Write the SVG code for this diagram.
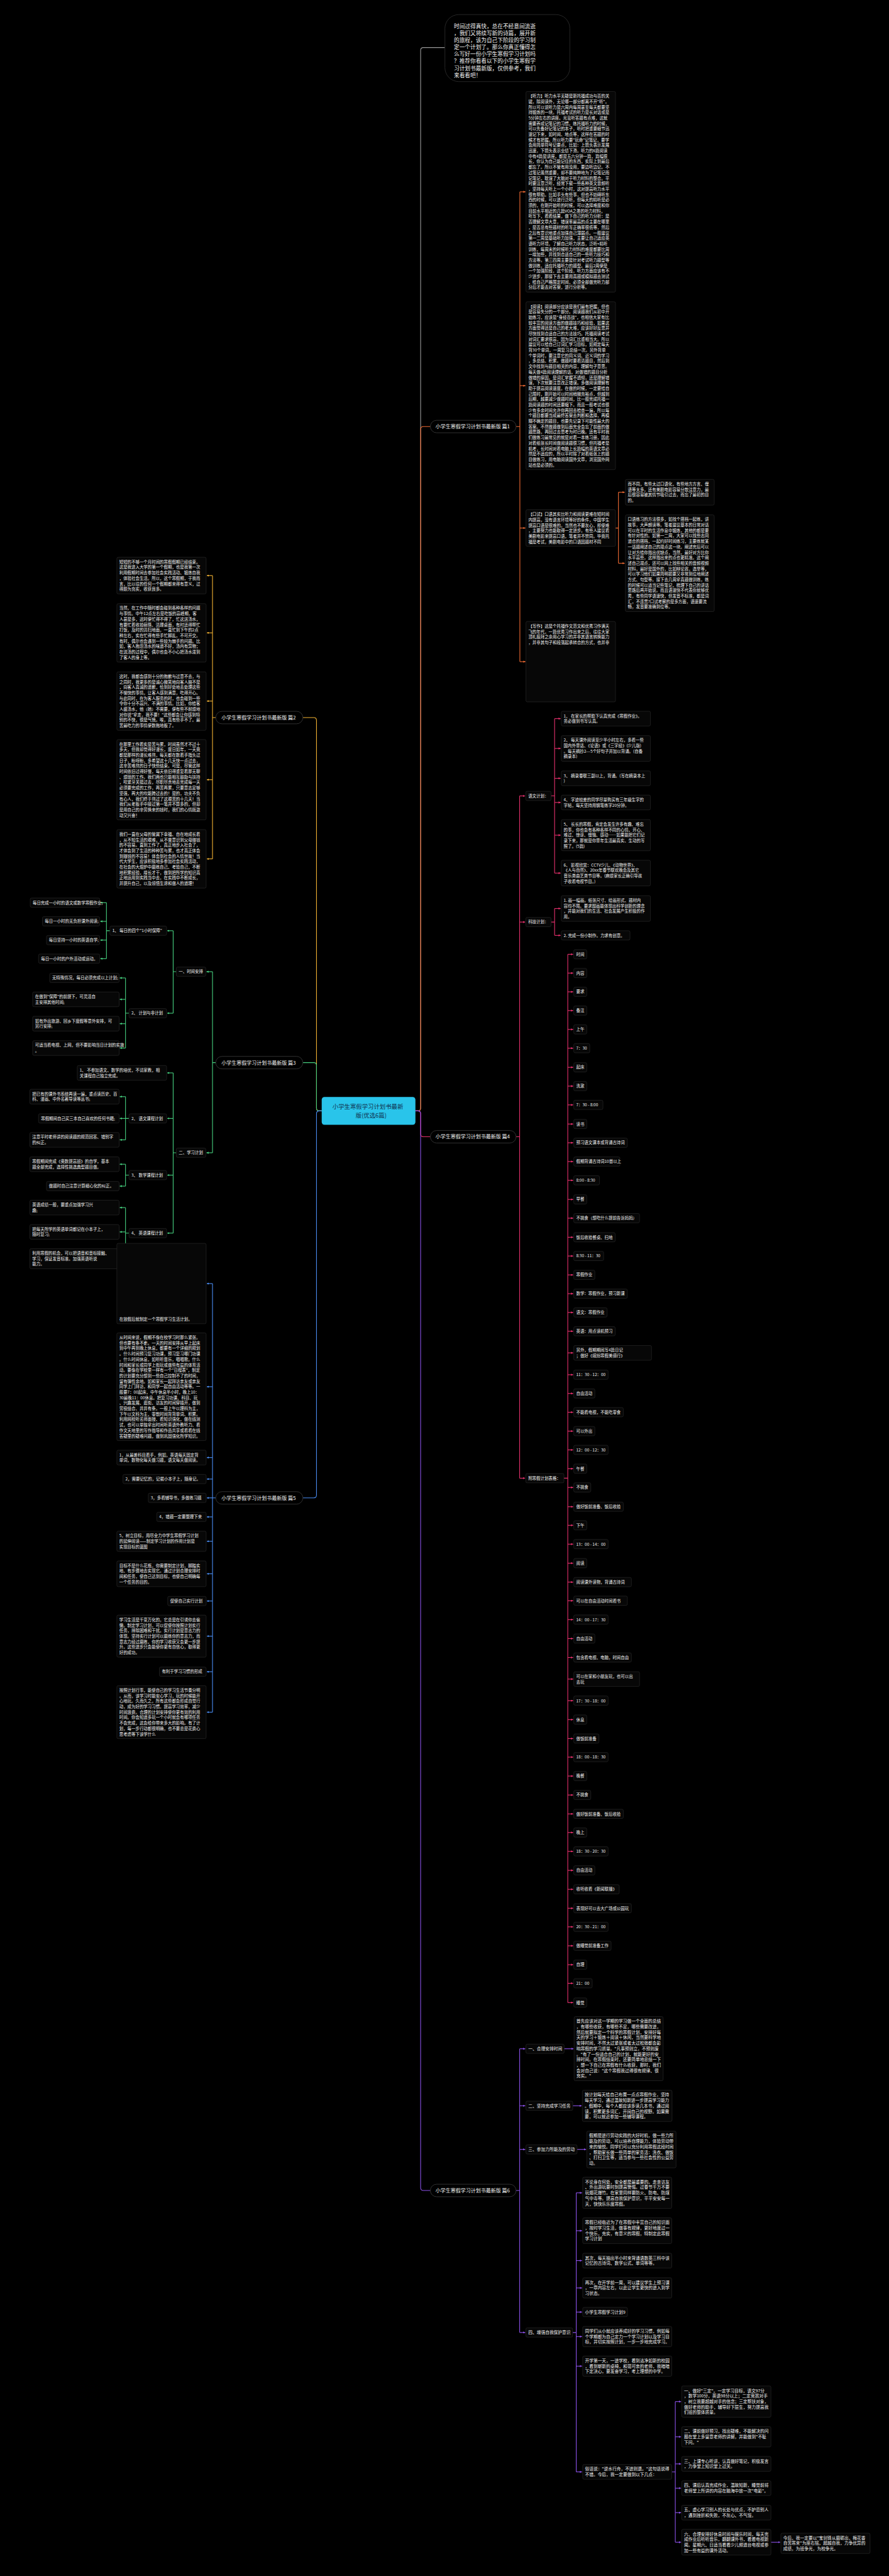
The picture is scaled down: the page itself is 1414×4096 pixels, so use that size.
<svg xmlns="http://www.w3.org/2000/svg" width="1414" height="4096" viewBox="0 0 1414 4096">
<style>
.t{font-family:"Noto Sans CJK SC","Noto Sans CJK JP",sans-serif;font-size:11.7px;fill:#f0f0f0}
.t6{font-family:"Noto Sans CJK SC","Noto Sans CJK JP",sans-serif;font-size:12.2px;fill:#f0f0f0}
.pl{font-family:"Noto Sans CJK SC","Noto Sans CJK JP",sans-serif;font-size:14.5px;fill:#f0f0f0}
.it{font-family:"Noto Sans CJK SC","Noto Sans CJK JP",sans-serif;font-size:15.7px;fill:#f0f0f0}
.ct{font-family:"Noto Sans CJK SC","Noto Sans CJK JP",sans-serif;font-size:17px;fill:#10304e}
.nb{fill:#070707;stroke:#2a2a2a;stroke-width:1.2}
.pill{fill:#000;stroke:#3a3a3a;stroke-width:1.5}
.c{fill:none;stroke-width:2}
.o{stroke:#ee6a33}.y{stroke:#f2b233}.g{stroke:#46cf7f}.p{stroke:#e6306d}.b{stroke:#4a8cf2}.v{stroke:#8a50e6}.w{stroke:#9a9a9a}
</style>
<defs>
<marker id="ao" viewBox="0 0 10 10" refX="10" refY="5" markerWidth="6" markerHeight="6" markerUnits="userSpaceOnUse" orient="auto"><path d="M0,0L10,5L0,10z" fill="#ee6a33"/></marker>
<marker id="ay" viewBox="0 0 10 10" refX="10" refY="5" markerWidth="6" markerHeight="6" markerUnits="userSpaceOnUse" orient="auto"><path d="M0,0L10,5L0,10z" fill="#f2b233"/></marker>
<marker id="ag" viewBox="0 0 10 10" refX="10" refY="5" markerWidth="6" markerHeight="6" markerUnits="userSpaceOnUse" orient="auto"><path d="M0,0L10,5L0,10z" fill="#46cf7f"/></marker>
<marker id="ap" viewBox="0 0 10 10" refX="10" refY="5" markerWidth="6" markerHeight="6" markerUnits="userSpaceOnUse" orient="auto"><path d="M0,0L10,5L0,10z" fill="#e6306d"/></marker>
<marker id="ab" viewBox="0 0 10 10" refX="10" refY="5" markerWidth="6" markerHeight="6" markerUnits="userSpaceOnUse" orient="auto"><path d="M0,0L10,5L0,10z" fill="#4a8cf2"/></marker>
<marker id="av" viewBox="0 0 10 10" refX="10" refY="5" markerWidth="6" markerHeight="6" markerUnits="userSpaceOnUse" orient="auto"><path d="M0,0L10,5L0,10z" fill="#8a50e6"/></marker>
</defs>
<rect width="1414" height="4096" fill="#000"/>
<g transform="scale(0.552)">
<g id="connectors">
<path class="c w" d="M1197,3200H1204Q1212,3200 1212,3192V145Q1212,137 1220,137H1282"/>
<path class="c o" d="M1197,3200H1204Q1212,3200 1212,3192V1236.6Q1212,1228.6 1220,1228.6H1240"/>
<path class="c p" d="M1197,3200H1204Q1212,3200 1212,3208V3266.5Q1212,3274.5 1220,3274.5H1240"/>
<path class="c v" d="M1197,3200H1204Q1212,3200 1212,3208V6301.8Q1212,6309.8 1220,6309.8H1240"/>
<path class="c y" d="M927,3200H920Q912,3200 912,3192V2075Q912,2067 904,2067H873"/>
<path class="c g" d="M927,3200H920Q912,3200 912,3192V3069Q912,3061 904,3061H873"/>
<path class="c b" d="M927,3200H920Q912,3200 912,3208V4306.7Q912,4314.7 904,4314.7H873"/>
<path class="c o" d="M1487,1228.6H1498M1498,552.5V1906M1782,1418V1622.5M1773.5,1521H1782"/>
<path class="c o" marker-end="url(#ao)" d="M1498,552.5H1514"/>
<path class="c o" marker-end="url(#ao)" d="M1498,1111H1514"/>
<path class="c o" marker-end="url(#ao)" d="M1498,1521H1514"/>
<path class="c o" marker-end="url(#ao)" d="M1498,1906H1514"/>
<path class="c o" marker-end="url(#ao)" d="M1782,1418H1800"/>
<path class="c o" marker-end="url(#ao)" d="M1782,1622.5H1800"/>
<path class="c y" d="M621.7,2067H612.3M612.3,1658V2474"/>
<path class="c y" marker-end="url(#ay)" d="M612.3,1658H596"/>
<path class="c y" marker-end="url(#ay)" d="M612.3,1823H596"/>
<path class="c y" marker-end="url(#ay)" d="M612.3,2019.5H596"/>
<path class="c y" marker-end="url(#ay)" d="M612.3,2246H596"/>
<path class="c y" marker-end="url(#ay)" d="M612.3,2474H596"/>
<path class="c g" d="M621.7,3061H612.3M612.3,2799V3320.6M508,2799H499M499,2681V2918.6M508,3320.6H499M499,3090.5V3552M316.7,2681H306.7M306.7,2600.2V2761.5M371.7,2918.6H361.7M361.7,2817V3019M371.7,3221.7H361.7M361.7,3159V3283.4M371.7,3385H361.7M361.7,3353.6V3416.7M371.7,3552H361.7M361.7,3478.5V3625.8"/>
<path class="c g" marker-end="url(#ag)" d="M612.3,2799H595"/>
<path class="c g" marker-end="url(#ag)" d="M612.3,3320.6H595"/>
<path class="c g" marker-end="url(#ag)" d="M499,2681H482"/>
<path class="c g" marker-end="url(#ag)" d="M499,2918.6H482"/>
<path class="c g" marker-end="url(#ag)" d="M499,3090.5H482"/>
<path class="c g" marker-end="url(#ag)" d="M499,3221.7H482"/>
<path class="c g" marker-end="url(#ag)" d="M499,3385H482"/>
<path class="c g" marker-end="url(#ag)" d="M499,3552H482"/>
<path class="c g" marker-end="url(#ag)" d="M306.7,2600.2H289"/>
<path class="c g" marker-end="url(#ag)" d="M306.7,2654H289"/>
<path class="c g" marker-end="url(#ag)" d="M306.7,2708H289"/>
<path class="c g" marker-end="url(#ag)" d="M306.7,2761.5H289"/>
<path class="c g" marker-end="url(#ag)" d="M361.7,2817H345"/>
<path class="c g" marker-end="url(#ag)" d="M361.7,2878.7H345"/>
<path class="c g" marker-end="url(#ag)" d="M361.7,2948.8H345"/>
<path class="c g" marker-end="url(#ag)" d="M361.7,3019H345"/>
<path class="c g" marker-end="url(#ag)" d="M361.7,3159H345"/>
<path class="c g" marker-end="url(#ag)" d="M361.7,3221.7H345"/>
<path class="c g" marker-end="url(#ag)" d="M361.7,3283.4H345"/>
<path class="c g" marker-end="url(#ag)" d="M361.7,3353.6H345"/>
<path class="c g" marker-end="url(#ag)" d="M361.7,3416.7H345"/>
<path class="c g" marker-end="url(#ag)" d="M361.7,3478.5H345"/>
<path class="c g" marker-end="url(#ag)" d="M361.7,3548.6H345"/>
<path class="c g" marker-end="url(#ag)" d="M361.7,3625.8H345"/>
<path class="c p" d="M1487,3274.5H1497.3M1497.3,2292.7V4258M1588,2292.7H1598M1598,2070V2515M1588,2656H1598M1598,2617V2694.5M1625,4258H1636M1636,2748.9V5768.5"/>
<path class="c p" marker-end="url(#ap)" d="M1497.3,2292.7H1513"/>
<path class="c p" marker-end="url(#ap)" d="M1497.3,2656H1513"/>
<path class="c p" marker-end="url(#ap)" d="M1497.3,4258H1513"/>
<path class="c p" marker-end="url(#ap)" d="M1598,2070H1615.5"/>
<path class="c p" marker-end="url(#ap)" d="M1598,2156H1615.5"/>
<path class="c p" marker-end="url(#ap)" d="M1598,2242H1615.5"/>
<path class="c p" marker-end="url(#ap)" d="M1598,2311.6H1615.5"/>
<path class="c p" marker-end="url(#ap)" d="M1598,2405.8H1615.5"/>
<path class="c p" marker-end="url(#ap)" d="M1598,2515H1615.5"/>
<path class="c p" marker-end="url(#ap)" d="M1598,2617H1615.5"/>
<path class="c p" marker-end="url(#ap)" d="M1598,2694.5H1615.5"/>
<path class="c p" marker-end="url(#ap)" d="M1636,2748.9H1651.5"/><path class="c p" marker-end="url(#ap)" d="M1636,2803H1651.5"/><path class="c p" marker-end="url(#ap)" d="M1636,2857H1651.5"/><path class="c p" marker-end="url(#ap)" d="M1636,2911H1651.5"/><path class="c p" marker-end="url(#ap)" d="M1636,2965.3H1651.5"/><path class="c p" marker-end="url(#ap)" d="M1636,3019.4H1651.5"/><path class="c p" marker-end="url(#ap)" d="M1636,3074.5H1651.5"/><path class="c p" marker-end="url(#ap)" d="M1636,3128.6H1651.5"/><path class="c p" marker-end="url(#ap)" d="M1636,3182.7H1651.5"/><path class="c p" marker-end="url(#ap)" d="M1636,3237.8H1651.5"/><path class="c p" marker-end="url(#ap)" d="M1636,3291.8H1651.5"/><path class="c p" marker-end="url(#ap)" d="M1636,3345.9H1651.5"/><path class="c p" marker-end="url(#ap)" d="M1636,3400H1651.5"/><path class="c p" marker-end="url(#ap)" d="M1636,3455H1651.5"/><path class="c p" marker-end="url(#ap)" d="M1636,3509H1651.5"/><path class="c p" marker-end="url(#ap)" d="M1636,3564H1651.5"/><path class="c p" marker-end="url(#ap)" d="M1636,3618H1651.5"/><path class="c p" marker-end="url(#ap)" d="M1636,3672.4H1651.5"/><path class="c p" marker-end="url(#ap)" d="M1636,3726.5H1651.5"/><path class="c p" marker-end="url(#ap)" d="M1636,3780.6H1651.5"/><path class="c p" marker-end="url(#ap)" d="M1636,3834.7H1651.5"/><path class="c p" marker-end="url(#ap)" d="M1636,3897H1651.5"/><path class="c p" marker-end="url(#ap)" d="M1636,3960H1651.5"/><path class="c p" marker-end="url(#ap)" d="M1636,4014H1651.5"/><path class="c p" marker-end="url(#ap)" d="M1636,4068H1651.5"/><path class="c p" marker-end="url(#ap)" d="M1636,4122.4H1651.5"/><path class="c p" marker-end="url(#ap)" d="M1636,4176.5H1651.5"/><path class="c p" marker-end="url(#ap)" d="M1636,4230.6H1651.5"/><path class="c p" marker-end="url(#ap)" d="M1636,4284.7H1651.5"/><path class="c p" marker-end="url(#ap)" d="M1636,4340.2H1651.5"/><path class="c p" marker-end="url(#ap)" d="M1636,4393.7H1651.5"/><path class="c p" marker-end="url(#ap)" d="M1636,4448H1651.5"/><path class="c p" marker-end="url(#ap)" d="M1636,4502.8H1651.5"/><path class="c p" marker-end="url(#ap)" d="M1636,4557.3H1651.5"/><path class="c p" marker-end="url(#ap)" d="M1636,4611H1651.5"/><path class="c p" marker-end="url(#ap)" d="M1636,4665.4H1651.5"/><path class="c p" marker-end="url(#ap)" d="M1636,4720H1651.5"/><path class="c p" marker-end="url(#ap)" d="M1636,4774.5H1651.5"/><path class="c p" marker-end="url(#ap)" d="M1636,4836.7H1651.5"/><path class="c p" marker-end="url(#ap)" d="M1636,4898.9H1651.5"/><path class="c p" marker-end="url(#ap)" d="M1636,4953.4H1651.5"/><path class="c p" marker-end="url(#ap)" d="M1636,5008H1651.5"/><path class="c p" marker-end="url(#ap)" d="M1636,5061.5H1651.5"/><path class="c p" marker-end="url(#ap)" d="M1636,5116H1651.5"/><path class="c p" marker-end="url(#ap)" d="M1636,5170.6H1651.5"/><path class="c p" marker-end="url(#ap)" d="M1636,5225H1651.5"/><path class="c p" marker-end="url(#ap)" d="M1636,5278.7H1651.5"/><path class="c p" marker-end="url(#ap)" d="M1636,5333H1651.5"/><path class="c p" marker-end="url(#ap)" d="M1636,5387.7H1651.5"/><path class="c p" marker-end="url(#ap)" d="M1636,5442.3H1651.5"/><path class="c p" marker-end="url(#ap)" d="M1636,5496.8H1651.5"/><path class="c p" marker-end="url(#ap)" d="M1636,5550.4H1651.5"/><path class="c p" marker-end="url(#ap)" d="M1636,5605H1651.5"/><path class="c p" marker-end="url(#ap)" d="M1636,5659.4H1651.5"/><path class="c p" marker-end="url(#ap)" d="M1636,5713H1651.5"/><path class="c p" marker-end="url(#ap)" d="M1636,5768.5H1651.5"/>
<path class="c b" d="M621.7,4314.7H612.3M612.3,3697.4V4932"/>
<path class="c b" marker-end="url(#ab)" d="M612.3,3697.4H596"/><path class="c b" marker-end="url(#ab)" d="M612.3,3994.5H596"/><path class="c b" marker-end="url(#ab)" d="M612.3,4198.6H596"/><path class="c b" marker-end="url(#ab)" d="M612.3,4260.5H596"/><path class="c b" marker-end="url(#ab)" d="M612.3,4314.7H596"/><path class="c b" marker-end="url(#ab)" d="M612.3,4369.5H596"/><path class="c b" marker-end="url(#ab)" d="M612.3,4439.7H596"/><path class="c b" marker-end="url(#ab)" d="M612.3,4533.4H596"/><path class="c b" marker-end="url(#ab)" d="M612.3,4611.8H596"/><path class="c b" marker-end="url(#ab)" d="M612.3,4713H596"/><path class="c b" marker-end="url(#ab)" d="M612.3,4815.5H596"/><path class="c b" marker-end="url(#ab)" d="M612.3,4932H596"/>
<path class="c v" d="M1487,6309.8H1497.4M1497.4,5901.6V6718.9M1650,6718.9H1660.4M1660.4,6316.6V7120.4M1936,7120.4H1945.8M1945.8,6917.9V7323"/>
<path class="c v" marker-end="url(#av)" d="M1497.4,5901.6H1513.5"/><path class="c v" marker-end="url(#av)" d="M1497.4,6065.8H1513.5"/><path class="c v" marker-end="url(#av)" d="M1497.4,6191.5H1513.5"/><path class="c v" marker-end="url(#av)" d="M1497.4,6718.9H1513.5"/>
<path class="c v" marker-end="url(#av)" d="M1625.6,5901.6H1652.5"/><path class="c v" marker-end="url(#av)" d="M1650.5,6065.8H1676"/><path class="c v" marker-end="url(#av)" d="M1662.8,6191.5H1689"/>
<path class="c v" marker-end="url(#av)" d="M1660.4,6316.6H1677"/><path class="c v" marker-end="url(#av)" d="M1660.4,6425.7H1677"/><path class="c v" marker-end="url(#av)" d="M1660.4,6511.8H1677"/><path class="c v" marker-end="url(#av)" d="M1660.4,6590.5H1677"/><path class="c v" marker-end="url(#av)" d="M1660.4,6660H1677"/><path class="c v" marker-end="url(#av)" d="M1660.4,6730.6H1677"/><path class="c v" marker-end="url(#av)" d="M1660.4,6815.8H1677"/><path class="c v" marker-end="url(#av)" d="M1660.4,7120.4H1677"/>
<path class="c v" marker-end="url(#av)" d="M1945.8,6917.9H1962.5"/><path class="c v" marker-end="url(#av)" d="M1945.8,7019.4H1962.5"/><path class="c v" marker-end="url(#av)" d="M1945.8,7097.4H1962.5"/><path class="c v" marker-end="url(#av)" d="M1945.8,7167.3H1962.5"/><path class="c v" marker-end="url(#av)" d="M1945.8,7237.8H1962.5"/><path class="c v" marker-end="url(#av)" d="M1945.8,7323H1962.5"/>
<path class="c v" marker-end="url(#av)" d="M2221.4,7323H2248"/>
</g>

<g id="center"><rect x="927" y="3160" width="270" height="80" rx="8" fill="#29c4ea"/><text class="ct" x="958" y="3194">小学生寒假学习计划书最新</text><text class="ct" x="1025" y="3219">版(优选6篇)</text></g>

<g id="intro"><rect x="1282" y="42" width="360" height="193" rx="40" fill="#000" stroke="#2e2e2e" stroke-width="1.5"/><text class="it" x="1308" y="82"><tspan x="1308">时间过得真快，总在不经意间流逝</tspan><tspan x="1308" dy="20">，我们又将续写新的诗篇，展开新</tspan><tspan x="1308" dy="20">的旅程，该为自己下阶段的学习制</tspan><tspan x="1308" dy="20">定一个计划了。那么你真正懂得怎</tspan><tspan x="1308" dy="20">么写好一份小学生寒假学习计划吗</tspan><tspan x="1308" dy="20">？推荐你看看以下的小学生寒假学</tspan><tspan x="1308" dy="20">习计划书最新版，仅供参考，我们</tspan><tspan x="1308" dy="20">来看看吧！</tspan></text></g>

<g id="b1"><rect class="pill" x="1240" y="1210.6" width="247" height="36" rx="18"/><text class="pl" x="1255" y="1233.8">小学生寒假学习计划书最新版 篇1</text></g>
<g id="b1-listen"><rect class="nb" x="1515.5" y="263.5" width="258" height="578" rx="4"/><text class="t" x="1522.5" y="281.1"><tspan x="1522.5">【听力】听力水平无疑是新托福成功与否的关</tspan><tspan x="1522.5" dy="15.75">键，除阅读外，无论哪一部分都离不开"听"。</tspan><tspan x="1522.5" dy="15.75">所以可以说听力是六周内每周甚至每天都要坚</tspan><tspan x="1522.5" dy="15.75">持锻炼的一块。托福考试的听力是长对话或是</tspan><tspan x="1522.5" dy="15.75">5分钟左右的讲座。光靠听答题有点难，这就</tspan><tspan x="1522.5" dy="15.75">需要养成记笔记的习惯。练托福听力的时候，</tspan><tspan x="1522.5" dy="15.75">可以先备好记笔记的本子，听时把重要细节迅</tspan><tspan x="1522.5" dy="15.75">速记下来，如时间、地点等，这样在答题的时</tspan><tspan x="1522.5" dy="15.75">候才有把握。所以听力要"玩命"记笔记，要学</tspan><tspan x="1522.5" dy="15.75">会用简单符号记要点，比如：上箭头表示发展</tspan><tspan x="1522.5" dy="15.75">迅速，下箭头表示业绩下滑。听力的6篇阅读</tspan><tspan x="1522.5" dy="15.75">中有4篇是讲座，都是五六分钟一篇，篇幅很</tspan><tspan x="1522.5" dy="15.75">长，你认为自己能记住的东西，实际上到最后</tspan><tspan x="1522.5" dy="15.75">都忘了。所以不管有用没用，要边听边记。不</tspan><tspan x="1522.5" dy="15.75">过笔记虽然重要，却不要纯粹地为了记笔记而</tspan><tspan x="1522.5" dy="15.75">记笔记，耽误了大脑对于听力材料的整合。平</tspan><tspan x="1522.5" dy="15.75">时要注意泛听，经常下载一些各种英文音频听</tspan><tspan x="1522.5" dy="15.75">，坚持每天听上一个小时，这对提高听力水平</tspan><tspan x="1522.5" dy="15.75">很有帮助。比如手头有些事，但也不妨碍听东</tspan><tspan x="1522.5" dy="15.75">西的时候，可以进行泛听，但每天的精听是必</tspan><tspan x="1522.5" dy="15.75">须的，在刚开始听的时候，可以选择难度和你</tspan><tspan x="1522.5" dy="15.75">目前水平相近的几篇VOA之类的听力材料，</tspan><tspan x="1522.5" dy="15.75">听写下，看看结果，做下自己的听力分析：是</tspan><tspan x="1522.5" dy="15.75">否理解文章大意，错误率最高的点主要在哪里</tspan><tspan x="1522.5" dy="15.75">，是否总有些题材的听写正确率很低等，然后</tspan><tspan x="1522.5" dy="15.75">之后有意识地重点加强自己薄弱点。一般建议</tspan><tspan x="1522.5" dy="15.75">第一二周是基础听力加强，主要让自己适应英</tspan><tspan x="1522.5" dy="15.75">语听力环境，了解自己听力状态，泛听+精听</tspan><tspan x="1522.5" dy="15.75">训练，每周末的时候听力材料的难度都要比周</tspan><tspan x="1522.5" dy="15.75">一增加些，并找到合适自己的一些听力技巧和</tspan><tspan x="1522.5" dy="15.75">方法等。第三四周主要是针对考试听力题型等</tspan><tspan x="1522.5" dy="15.75">做训练，适应托福听力的题型。最后2周便是</tspan><tspan x="1522.5" dy="15.75">一个加强阶段，这个阶段，听力方面应该有不</tspan><tspan x="1522.5" dy="15.75">少进步，那接下去主要用真题或模拟题去测试</tspan><tspan x="1522.5" dy="15.75">，给自己严格限定时间，必须全部做完听力部</tspan><tspan x="1522.5" dy="15.75">分后才能去对答案，进行分析等。</tspan></text></g>
<g id="b1-read"><rect class="nb" x="1515.5" y="869.25" width="258" height="483.5" rx="4"/><text class="t" x="1522.5" y="886.8"><tspan x="1522.5">【阅读】阅读部分应该是我们最有把握，但也</tspan><tspan x="1522.5" dy="15.75">是容易失分的一个部分。阅读题我们从初中开</tspan><tspan x="1522.5" dy="15.75">始练习，应该是"身经百战"，也相信大家有比</tspan><tspan x="1522.5" dy="15.75">较丰富的阅读方面的做题技巧和经验，如果这</tspan><tspan x="1522.5" dy="15.75">方面觉得还是自己的老大难，应该好好反思并</tspan><tspan x="1522.5" dy="15.75">尽快找到合适自己的方法技巧。托福阅读考试</tspan><tspan x="1522.5" dy="15.75">对词汇要求很高，因为词汇比重相当大。所以</tspan><tspan x="1522.5" dy="15.75">建议可以给自己订词汇学习目标，如规定每天</tspan><tspan x="1522.5" dy="15.75">背30个单词，一周复习总结一次。另外背单</tspan><tspan x="1522.5" dy="15.75">个单词时，要注意它的同义词、近义词的学习</tspan><tspan x="1522.5" dy="15.75">，多总结、积累。做题时要看清题目，然后到</tspan><tspan x="1522.5" dy="15.75">文中找到与题目相关的内容，理解句子意思。</tspan><tspan x="1522.5" dy="15.75">每天做4篇阅读理解的话，对做错的题目分析</tspan><tspan x="1522.5" dy="15.75">做错的原因，是词汇掌握不透彻，还是理解错</tspan><tspan x="1522.5" dy="15.75">误，下次就要注意改正错误。多做阅读理解有</tspan><tspan x="1522.5" dy="15.75">助于提高阅读速度。在做的时候，一定要给自</tspan><tspan x="1522.5" dy="15.75">己限时，刚开始可以时间稍微充裕点，但越到</tspan><tspan x="1522.5" dy="15.75">后期，越要减少做题时间，比一般完成托福一</tspan><tspan x="1522.5" dy="15.75">篇阅读题的时间还要缩下。而且一般考试也很</tspan><tspan x="1522.5" dy="15.75">少有多余时间允许你再回去检查一遍，所以每</tspan><tspan x="1522.5" dy="15.75">个题目都要当成最终答案去判断和选择，再模</tspan><tspan x="1522.5" dy="15.75">糊不确定的题目，也要先记录下可能性最大的</tspan><tspan x="1522.5" dy="15.75">答案。不然做题做到后面完全会忘了前面的做</tspan><tspan x="1522.5" dy="15.75">题思路，再回过去思考为时已晚。还有平时我</tspan><tspan x="1522.5" dy="15.75">们做练习最常见的就是对着一本练习册，因此</tspan><tspan x="1522.5" dy="15.75">对着纸张长时间做阅读题很习惯，但托福考是</tspan><tspan x="1522.5" dy="15.75">机考，长时间对着电脑上长篇幅的英语文章必</tspan><tspan x="1522.5" dy="15.75">然是不适应的，所以平时除了对着纸张上的题</tspan><tspan x="1522.5" dy="15.75">目做练习，用电脑阅读国外文章，浏览国外网</tspan><tspan x="1522.5" dy="15.75">站也是必须的。</tspan></text></g>
<g id="b1-oral"><rect class="nb" x="1515.5" y="1468.25" width="258" height="105.5" rx="4"/><text class="t" x="1522.5" y="1485.8"><tspan x="1522.5">【口试】口语其实比听力和阅读更难在短时间</tspan><tspan x="1522.5" dy="15.75">内提高，没有语言环境等好的条件，中国学生</tspan><tspan x="1522.5" dy="15.75">提高口语是很难的。当然也不要灰心，即使难</tspan><tspan x="1522.5" dy="15.75">，主要努力也能取得一定进步。有些人建议看</tspan><tspan x="1522.5" dy="15.75">美剧电影来提高口语，笔者并不赞同。毕竟托</tspan><tspan x="1522.5" dy="15.75">福是考试，美剧电影中的口语因题材不同</tspan></text></g>
<g id="b1-oral-a"><rect class="nb" x="1802" y="1381" width="256" height="74" rx="4"/><text class="t" x="1809" y="1398.6"><tspan x="1809">而不同，有些太过口语化，有些地方方言、俚</tspan><tspan x="1809" dy="15.75">语等太多，还有美剧电影容易分散注意力，最</tspan><tspan x="1809" dy="15.75">后很容易被其情节吸引过去，而忘了最初的目</tspan><tspan x="1809" dy="15.75">的。</tspan></text></g>
<g id="b1-oral-b"><rect class="nb" x="1802" y="1483.1" width="256" height="278.75" rx="4"/><text class="t" x="1809" y="1500.7"><tspan x="1809">口语练习的方法很多，如找个搭档一起练，讲</tspan><tspan x="1809" dy="15.75">故事，大声朗读等。笔者建议基本的日常对话</tspan><tspan x="1809" dy="15.75">可以在平时的生活作息中锻炼，其他的都是要</tspan><tspan x="1809" dy="15.75">有针对性的。如第一二周，大家可以找些志同</tspan><tspan x="1809" dy="15.75">道合的搭档，一起约好时间练习，主要练就某</tspan><tspan x="1809" dy="15.75">一话题阐述自己的观点这一块。阐述完后可以</tspan><tspan x="1809" dy="15.75">让对方给你指出优缺点，当然，最好对方比你</tspan><tspan x="1809" dy="15.75">水平高些，这样指出来的点也更精准。这个阐</tspan><tspan x="1809" dy="15.75">述自己观点，还可以网上找些相关的音频视频</tspan><tspan x="1809" dy="15.75">材料，最好是国外的，比如辩论赛，选举等，</tspan><tspan x="1809" dy="15.75">可以学习他们如果简明扼要又非常到位地阐述</tspan><tspan x="1809" dy="15.75">方式、句型等。接下去几周拿真题做训练，练</tspan><tspan x="1809" dy="15.75">的时候可以适当记些笔记，梳理下自己的讲话</tspan><tspan x="1809" dy="15.75">思路后再开始说。而且语速快不代表你就够优</tspan><tspan x="1809" dy="15.75">秀，有些同学语速快，但发音不标准，都是词</tspan><tspan x="1809" dy="15.75">汇，不连贯?口试考察的是多方面，语速要流</tspan><tspan x="1809" dy="15.75">畅，发音要准确到位等。</tspan></text></g>
<g id="b1-write"><rect class="nb" x="1515.5" y="1790.25" width="258" height="231.5" rx="4"/><text class="t" x="1522.5" y="1807.8"><tspan x="1522.5">【写作】这是个托福作文范文和优秀习作满天</tspan><tspan x="1522.5" dy="15.75">飞的年代，一篇优秀习作出来之后，往往大家</tspan><tspan x="1522.5" dy="15.75">顶礼膜拜之余用心学习的并非其语言转换能力</tspan><tspan x="1522.5" dy="15.75">，并非其句子和段落起承转合的方式，也并非</tspan></text></g>

<g id="b2"><rect class="pill" x="621.7" y="2049" width="251" height="36" rx="18"/><text class="pl" x="638" y="2072.2">小学生寒假学习计划书最新版 篇2</text></g>
<g id="b2-1"><rect class="nb" x="336.7" y="1605.25" width="257.3" height="105.5" rx="4"/><text class="t" x="343.7" y="1622.8"><tspan x="343.7">短短的不够一个月时间的寒假假期已经结束。</tspan><tspan x="343.7" dy="15.75">这是我进入大学的第一个假期，也是我第一次</tspan><tspan x="343.7" dy="15.75">利用假期时间去参加社会实践活动、锻炼自我</tspan><tspan x="343.7" dy="15.75">，体验社会生活。所以，这个寒假期，于我而</tspan><tspan x="343.7" dy="15.75">言，比以往的任何一个假期都来得有意义，过</tspan><tspan x="343.7" dy="15.75">得颇为充实，收获良多。</tspan></text></g>
<g id="b2-2"><rect class="nb" x="336.7" y="1738.75" width="257.3" height="168.5" rx="4"/><text class="t" x="343.7" y="1756.3"><tspan x="343.7">当然，在工作中随时都会碰到各种各样的问题</tspan><tspan x="343.7" dy="15.75">与事情。中午12点左右是吃饭的高峰期，客</tspan><tspan x="343.7" dy="15.75">人甚是多，这时便忙得不得了，忙这送汤水，</tspan><tspan x="343.7" dy="15.75">有要忙着收拾碗筷、清理桌面，有时还得帮忙</tspan><tspan x="343.7" dy="15.75">打饭，及时的清扫地面，一直忙到下午的2点</tspan><tspan x="343.7" dy="15.75">种左右，实在忙得有些手忙脚乱，不可开交。</tspan><tspan x="343.7" dy="15.75">有时，偶尔也会遇到一些较为棘手的问题。比</tspan><tspan x="343.7" dy="15.75">如，客人抱怨汤水的味道不好，汤内有异物；</tspan><tspan x="343.7" dy="15.75">在送汤的过程中，偶尔也会不小心把汤水泼到</tspan><tspan x="343.7" dy="15.75">了客人的身上等。</tspan></text></g>
<g id="b2-3"><rect class="nb" x="336.7" y="1935.25" width="257.3" height="168.5" rx="4"/><text class="t" x="343.7" y="1952.8"><tspan x="343.7">这时，我都会感到十分的抱歉与过意不去，与</tspan><tspan x="343.7" dy="15.75">之同时，我更多的是诚心微笑地向客人赔不是</tspan><tspan x="343.7" dy="15.75">，向客人真诚的道歉，恰到好处地去处理这些</tspan><tspan x="343.7" dy="15.75">不愉快的事情，让客人感到满意，吃得开心。</tspan><tspan x="343.7" dy="15.75">与此同时，在为客人服务的时，也会碰到一些</tspan><tspan x="343.7" dy="15.75">令你十分不高兴、不满的事情。比如，你给客</tspan><tspan x="343.7" dy="15.75">人盛汤水，他（她）不需要，便有些不耐烦地</tspan><tspan x="343.7" dy="15.75">对你说"拿走，我不要！"这些都会让你感到特</tspan><tspan x="343.7" dy="15.75">别的不快，很是气愤。唉，真有些手不了。最</tspan><tspan x="343.7" dy="15.75">苦最吃力的事情便数拖地板了。</tspan></text></g>
<g id="b2-4"><rect class="nb" x="336.7" y="2130.25" width="257.3" height="231.5" rx="4"/><text class="t" x="343.7" y="2147.8"><tspan x="343.7">在那里工作着实是苦与累，时间虽然才不过十</tspan><tspan x="343.7" dy="15.75">多天，但我却觉得好漫长，度日如年，一天竟</tspan><tspan x="343.7" dy="15.75">都是那样的漫长难熬，每天都在数着手指头过</tspan><tspan x="343.7" dy="15.75">日子，盼呀盼，多希望这十几天快一点过去，</tspan><tspan x="343.7" dy="15.75">这辛苦难熬的日子快些结束。可是，尽管这样</tspan><tspan x="343.7" dy="15.75">时间依旧过得好慢，每天依旧得重复着那无聊</tspan><tspan x="343.7" dy="15.75">、烦琐的工作。我们两也只能相互鼓励与扶持</tspan><tspan x="343.7" dy="15.75">，咬紧牙关挺过去，尽职尽责地去完成每一天</tspan><tspan x="343.7" dy="15.75">必须要完成的工作，再苦再累，只要意志足够</tspan><tspan x="343.7" dy="15.75">坚强，再大的坎能跨过去的！是的，功夫不负</tspan><tspan x="343.7" dy="15.75">有心人，我们终于熬过了这艰苦的十几天！当</tspan><tspan x="343.7" dy="15.75">我们从老板手中接过第一笔并不算多的，但却</tspan><tspan x="343.7" dy="15.75">是用自己的辛劳换来的钱时，我们的心情既激</tspan><tspan x="343.7" dy="15.75">动又兴奋！</tspan></text></g>
<g id="b2-5"><rect class="nb" x="336.7" y="2389.75" width="257.3" height="168.5" rx="4"/><text class="t" x="343.7" y="2407.3"><tspan x="343.7">我们一直在父母的管翼下幸福、自在地成长着</tspan><tspan x="343.7" dy="15.75">，从不知生活的艰难，从不曾意识到父母赚钱</tspan><tspan x="343.7" dy="15.75">的不容易。直到工作了，真正地步入社会了，</tspan><tspan x="343.7" dy="15.75">才体会到了生活的种种苦与累，也才真正体会</tspan><tspan x="343.7" dy="15.75">到赚钱的不容易！体会到社会的人情世故！当</tspan><tspan x="343.7" dy="15.75">代大学生，应该积极地多参加社会实践活动，</tspan><tspan x="343.7" dy="15.75">在社会的大熔炉中磨练自己、考验自己，不断</tspan><tspan x="343.7" dy="15.75">地积累经验，增长才干，做到把所学的知识真</tspan><tspan x="343.7" dy="15.75">正地运用到实践当中去，在实践中不断成长，</tspan><tspan x="343.7" dy="15.75">并提升自己，以及领悟生谛和做人的道理！</tspan></text></g>

<g id="b3"><rect class="pill" x="621.7" y="3043" width="251" height="36" rx="18"/><text class="pl" x="638" y="3066.2">小学生寒假学习计划书最新版 篇3</text></g>
<g id="b3-a"><rect class="nb" x="508" y="2785.6" width="85" height="26.75" rx="4"/><text class="t" x="515" y="2803.2">一、时间安排</text></g>
<g id="b3-b"><rect class="nb" x="508" y="3307.2" width="85" height="26.75" rx="4"/><text class="t" x="515" y="3324.8">二、学习计划</text></g>
<g id="b3-a1"><rect class="nb" x="316.7" y="2667.6" width="163.3" height="26.75" rx="4"/><text class="t" x="323.7" y="2685.2">1、 每日的四个"1小时保障"</text></g>
<g id="b3-a2"><rect class="nb" x="371.7" y="2905.2" width="108.3" height="26.75" rx="4"/><text class="t" x="378.7" y="2922.8">2、 计划与非计划</text></g>
<g id="b3-b1"><rect class="nb" x="222.7" y="3069.25" width="257.3" height="42.5" rx="4"/><text class="t" x="229.7" y="3086.8"><tspan x="229.7">1、 不参加语文、数学的培优，不请家教，相</tspan><tspan x="229.7" dy="15.75">关课程自己独立完成。</tspan></text></g>
<g id="b3-b2"><rect class="nb" x="371.7" y="3208.3" width="108.3" height="26.75" rx="4"/><text class="t" x="378.7" y="3225.9">2、 语文课程计划</text></g>
<g id="b3-b3"><rect class="nb" x="371.7" y="3371.6" width="108.3" height="26.75" rx="4"/><text class="t" x="378.7" y="3389.2">3、 数学课程计划</text></g>
<g id="b3-b4"><rect class="nb" x="371.7" y="3538.6" width="108.3" height="26.75" rx="4"/><text class="t" x="378.7" y="3556.2">4、 英语课程计划</text></g>
<g id="b3-leaves">
<rect class="nb" x="87.2" y="2586.8" width="200.1" height="26.75" rx="4"/><text class="t" x="94.2" y="2604.4">每日完成一小时的语文或数学寒假作业;</text>
<rect class="nb" x="122.3" y="2640.6" width="165" height="26.75" rx="4"/><text class="t" x="129.3" y="2658.2">每日一小时的无负担课外阅读;</text>
<rect class="nb" x="134" y="2694.6" width="153.3" height="26.75" rx="4"/><text class="t" x="141" y="2712.2">每日坚持一小时的英语自学;</text>
<rect class="nb" x="111.1" y="2748.1" width="176.2" height="26.75" rx="4"/><text class="t" x="118.1" y="2765.7">每日一小时的户外活动或运动。</text>
<rect class="nb" x="143.2" y="2803.6" width="200.1" height="26.75" rx="4"/><text class="t" x="150.2" y="2821.2">无特殊情况，每日必须完成以上计划;</text>
<rect class="nb" x="94" y="2857.45" width="249.3" height="42.5" rx="4"/><text class="t" x="101" y="2875"><tspan x="101">在做到"保障"的前提下，可灵活自</tspan><tspan x="101" dy="15.75">主安排其他时间;</tspan></text>
<rect class="nb" x="94" y="2927.55" width="249.3" height="42.5" rx="4"/><text class="t" x="101" y="2945.1"><tspan x="101">如有外出旅游、回乡下度假等意外安排，可</tspan><tspan x="101" dy="15.75">另行安排;</tspan></text>
<rect class="nb" x="94" y="2997.75" width="249.3" height="42.5" rx="4"/><text class="t" x="101" y="3015.3"><tspan x="101">可适当看电视、上网，但不要影响当日计划的实施</tspan><tspan x="101" dy="15.75">。</tspan></text>
<rect class="nb" x="86" y="3137.75" width="257.3" height="42.5" rx="4"/><text class="t" x="93" y="3155.3"><tspan x="93">把已有的课外书系统再读一遍，重点读历史、百</tspan><tspan x="93" dy="15.75">科、漫画、中外名著导读等丛书;</tspan></text>
<rect class="nb" x="111.1" y="3208.3" width="232.2" height="26.75" rx="4"/><text class="t" x="118.1" y="3225.9">寒假期间自己买三本自己喜欢的任何书籍;</text>
<rect class="nb" x="86" y="3262.15" width="257.3" height="42.5" rx="4"/><text class="t" x="93" y="3279.7"><tspan x="93">注意平时老师讲的阅读题的规范回答、错别字</tspan><tspan x="93" dy="15.75">的纠正。</tspan></text>
<rect class="nb" x="86" y="3332.35" width="257.3" height="42.5" rx="4"/><text class="t" x="93" y="3349.9"><tspan x="93">寒假期间完成《奥数提高班》的自学，基本</tspan><tspan x="93" dy="15.75">题全部完成，选择性挑选典型题目做。</tspan></text>
<rect class="nb" x="134" y="3403.3" width="209.3" height="26.75" rx="4"/><text class="t" x="141" y="3420.9">做题时自己注意计算细心化的纠正。</text>
<rect class="nb" x="86" y="3457.25" width="257.3" height="42.5" rx="4"/><text class="t" x="93" y="3474.8"><tspan x="93">英语成绩一般，要重点加强学习兴</tspan><tspan x="93" dy="15.75">趣;</tspan></text>
<rect class="nb" x="86" y="3527.35" width="257.3" height="42.5" rx="4"/><text class="t" x="93" y="3544.9"><tspan x="93">把每天所学的英语单词都记在小本子上，</tspan><tspan x="93" dy="15.75">随时复习;</tspan></text>
<rect class="nb" x="86" y="3596.7" width="257.3" height="58.25" rx="4"/><text class="t" x="93" y="3614.2"><tspan x="93">利用寒假的机会，可以把语音和音标接触、</tspan><tspan x="93" dy="15.75">学习，保证发音标准。加强英语听说</tspan><tspan x="93" dy="15.75">能力。</tspan></text>
</g>

<g id="b4"><rect class="pill" x="1240" y="3256.5" width="247" height="36" rx="18"/><text class="pl" x="1255" y="3279.7">小学生寒假学习计划书最新版 篇4</text></g>
<g id="b4-yw"><rect class="nb" x="1515" y="2279.3" width="73" height="26.75" rx="4"/><text class="t" x="1522" y="2296.9">语文计划：</text></g>
<g id="b4-kj"><rect class="nb" x="1515" y="2642.6" width="73" height="26.75" rx="4"/><text class="t" x="1522" y="2660.2">科技计划：</text></g>
<g id="b4-tb"><rect class="nb" x="1515" y="4244.6" width="110" height="26.75" rx="4"/><text class="t" x="1522" y="4262.2">附寒假计划表格：</text></g>
<g id="b4-yw-items">
<rect class="nb" x="1617.3" y="2048.75" width="257" height="42.5" rx="4"/><text class="t" x="1624.3" y="2066.3"><tspan x="1624.3">1、 在家长的帮助下认真完成《寒假作业》。</tspan><tspan x="1624.3" dy="15.75">务必做到书写认真。</tspan></text>
<rect class="nb" x="1617.3" y="2119" width="257" height="74" rx="4"/><text class="t" x="1624.3" y="2136.6"><tspan x="1624.3">2、 每天课外阅读至少半小时左右，多看一些</tspan><tspan x="1624.3" dy="15.75">国内外童话、《论语》或《三字经》(少儿版)</tspan><tspan x="1624.3" dy="15.75">。每天摘抄2---5个好句子并加以背诵。(自备</tspan><tspan x="1624.3" dy="15.75">摘录本)</tspan></text>
<rect class="nb" x="1617.3" y="2220.75" width="257" height="42.5" rx="4"/><text class="t" x="1624.3" y="2238.3"><tspan x="1624.3">3、 摘录春联三副以上，背诵。(写在摘录本上</tspan><tspan x="1624.3" dy="15.75">)</tspan></text>
<rect class="nb" x="1617.3" y="2290.35" width="257" height="42.5" rx="4"/><text class="t" x="1624.3" y="2307.9"><tspan x="1624.3">4、 字迹较差的同学尽量购买有三年级生字的</tspan><tspan x="1624.3" dy="15.75">字帖，每天坚持用钢笔练字20分钟。</tspan></text>
<rect class="nb" x="1617.3" y="2360.9" width="257" height="89.75" rx="4"/><text class="t" x="1624.3" y="2378.5"><tspan x="1624.3">5、 长长的寒假，肯定会发生许多有趣、难忘</tspan><tspan x="1624.3" dy="15.75">的事，你也会有各种各样不同的心情，开心、</tspan><tspan x="1624.3" dy="15.75">难过、惊讶、懊恼、感动……如果能把它们记</tspan><tspan x="1624.3" dy="15.75">录下来，那就是你童年生活最真实、生动的写</tspan><tspan x="1624.3" dy="15.75">照了。(5篇)</tspan></text>
<rect class="nb" x="1617.3" y="2478" width="257" height="74" rx="4"/><text class="t" x="1624.3" y="2495.6"><tspan x="1624.3">6、 影视欣赏：CCTV少儿、《动物世界》、</tspan><tspan x="1624.3" dy="15.75">《人与自然》、20xx年春节联欢晚会及其它</tspan><tspan x="1624.3" dy="15.75">音乐类曲艺类节目等。(麻烦家长正确引导孩</tspan><tspan x="1624.3" dy="15.75">子收看电视节目。)</tspan></text>
<rect class="nb" x="1617.3" y="2580" width="257" height="74" rx="4"/><text class="t" x="1624.3" y="2597.6"><tspan x="1624.3">1. 画一幅画。纸张尺寸、绘画形式、题材内</tspan><tspan x="1624.3" dy="15.75">容均不限。要求图画能体现出科学创新的理念</tspan><tspan x="1624.3" dy="15.75">，并能对我们的生活、社会发展产生积极的作</tspan><tspan x="1624.3" dy="15.75">用。</tspan></text>
<rect class="nb" x="1617.3" y="2681.1" width="198" height="26.75" rx="4"/><text class="t" x="1624.3" y="2698.7">2. 完成一份小制作。力求有创意。</text>
</g>
<g id="b4-table">
<rect class="nb" x="1653.3" y="2735.5" width="37.4" height="26.75" rx="4"/><text class="t" x="1660.3" y="2753.1">时间</text>
<rect class="nb" x="1653.3" y="2789.6" width="37.4" height="26.75" rx="4"/><text class="t" x="1660.3" y="2807.2">内容</text>
<rect class="nb" x="1653.3" y="2843.6" width="37.4" height="26.75" rx="4"/><text class="t" x="1660.3" y="2861.2">要求</text>
<rect class="nb" x="1653.3" y="2897.6" width="37.4" height="26.75" rx="4"/><text class="t" x="1660.3" y="2915.2">备注</text>
<rect class="nb" x="1653.3" y="2951.9" width="37.4" height="26.75" rx="4"/><text class="t" x="1660.3" y="2969.5">上午</text>
<rect class="nb" x="1653.3" y="3006" width="46" height="26.75" rx="4"/><text class="t" x="1660.3" y="3023.6">7：30</text>
<rect class="nb" x="1653.3" y="3061.1" width="37.4" height="26.75" rx="4"/><text class="t" x="1660.3" y="3078.7">起床</text>
<rect class="nb" x="1653.3" y="3115.2" width="37.4" height="26.75" rx="4"/><text class="t" x="1660.3" y="3132.8">洗漱</text>
<rect class="nb" x="1653.3" y="3169.3" width="84" height="26.75" rx="4"/><text class="t" x="1660.3" y="3186.9">7：30 - 8:00</text>
<rect class="nb" x="1653.3" y="3224.4" width="37.4" height="26.75" rx="4"/><text class="t" x="1660.3" y="3242">读书</text>
<rect class="nb" x="1653.3" y="3278.4" width="154.4" height="26.75" rx="4"/><text class="t" x="1660.3" y="3296">预习语文课本或背诵古诗词</text>
<rect class="nb" x="1653.3" y="3332.5" width="133" height="26.75" rx="4"/><text class="t" x="1660.3" y="3350.1">假期背诵古诗词10首以上</text>
<rect class="nb" x="1653.3" y="3386.6" width="74" height="26.75" rx="4"/><text class="t" x="1660.3" y="3404.2">8:00 - 8:30</text>
<rect class="nb" x="1653.3" y="3441.6" width="37.4" height="26.75" rx="4"/><text class="t" x="1660.3" y="3459.2">早餐</text>
<rect class="nb" x="1653.3" y="3495.6" width="189.5" height="26.75" rx="4"/><text class="t" x="1660.3" y="3513.2">不挑食（想吃什么提前告诉妈妈）</text>
<rect class="nb" x="1653.3" y="3550.6" width="119.3" height="26.75" rx="4"/><text class="t" x="1660.3" y="3568.2">饭后收拾餐桌、扫地</text>
<rect class="nb" x="1653.3" y="3604.6" width="86" height="26.75" rx="4"/><text class="t" x="1660.3" y="3622.2">8:30 - 11：30</text>
<rect class="nb" x="1653.3" y="3659" width="60.8" height="26.75" rx="4"/><text class="t" x="1660.3" y="3676.6">寒假作业</text>
<rect class="nb" x="1653.3" y="3713.1" width="154.4" height="26.75" rx="4"/><text class="t" x="1660.3" y="3730.7">数学：寒假作业，预习新课</text>
<rect class="nb" x="1653.3" y="3767.2" width="96" height="26.75" rx="4"/><text class="t" x="1660.3" y="3784.8">语文：寒假作业</text>
<rect class="nb" x="1653.3" y="3821.3" width="119.3" height="26.75" rx="4"/><text class="t" x="1660.3" y="3838.9">英语：用点读机预习</text>
<rect class="nb" x="1653.3" y="3875.75" width="224" height="42.5" rx="4"/><text class="t" x="1660.3" y="3893.3"><tspan x="1660.3">另外，假期期间写4篇日记</tspan><tspan x="1660.3" dy="15.75">；做好《缤纷寒假美德行》</tspan></text>
<rect class="nb" x="1653.3" y="3946.6" width="99" height="26.75" rx="4"/><text class="t" x="1660.3" y="3964.2">11：30 - 12：00</text>
<rect class="nb" x="1653.3" y="4000.6" width="60.8" height="26.75" rx="4"/><text class="t" x="1660.3" y="4018.2">自由活动</text>
<rect class="nb" x="1653.3" y="4054.6" width="142.7" height="26.75" rx="4"/><text class="t" x="1660.3" y="4072.2">不能看电视，不能吃零食</text>
<rect class="nb" x="1653.3" y="4109" width="60.8" height="26.75" rx="4"/><text class="t" x="1660.3" y="4126.6">可以外出</text>
<rect class="nb" x="1653.3" y="4163.1" width="99" height="26.75" rx="4"/><text class="t" x="1660.3" y="4180.7">12：00 - 12：30</text>
<rect class="nb" x="1653.3" y="4217.2" width="37.4" height="26.75" rx="4"/><text class="t" x="1660.3" y="4234.8">午餐</text>
<rect class="nb" x="1653.3" y="4271.3" width="49.1" height="26.75" rx="4"/><text class="t" x="1660.3" y="4288.9">不挑食</text>
<rect class="nb" x="1653.3" y="4326.8" width="142.7" height="26.75" rx="4"/><text class="t" x="1660.3" y="4344.4">做好饭前准备、饭后收拾</text>
<rect class="nb" x="1653.3" y="4380.3" width="37.4" height="26.75" rx="4"/><text class="t" x="1660.3" y="4397.9">下午</text>
<rect class="nb" x="1653.3" y="4434.6" width="99" height="26.75" rx="4"/><text class="t" x="1660.3" y="4452.2">13：00 - 14：00</text>
<rect class="nb" x="1653.3" y="4489.4" width="37.4" height="26.75" rx="4"/><text class="t" x="1660.3" y="4507">阅读</text>
<rect class="nb" x="1653.3" y="4543.9" width="166" height="26.75" rx="4"/><text class="t" x="1660.3" y="4561.5">阅读课外读物，背诵古诗词</text>
<rect class="nb" x="1653.3" y="4597.6" width="154.4" height="26.75" rx="4"/><text class="t" x="1660.3" y="4615.2">可以在自由活动时间看书</text>
<rect class="nb" x="1653.3" y="4652" width="99" height="26.75" rx="4"/><text class="t" x="1660.3" y="4669.6">14：00 - 17：30</text>
<rect class="nb" x="1653.3" y="4706.6" width="60.8" height="26.75" rx="4"/><text class="t" x="1660.3" y="4724.2">自由活动</text>
<rect class="nb" x="1653.3" y="4761.1" width="166" height="26.75" rx="4"/><text class="t" x="1660.3" y="4778.7">包含看电视、电脑，时间自由</text>
<rect class="nb" x="1653.3" y="4815.45" width="189.5" height="42.5" rx="4"/><text class="t" x="1660.3" y="4833"><tspan x="1660.3">可以在家和小朋友玩，也可以出</tspan><tspan x="1660.3" dy="15.75">去玩</tspan></text>
<rect class="nb" x="1653.3" y="4885.5" width="99" height="26.75" rx="4"/><text class="t" x="1660.3" y="4903.1">17：30 - 18：00</text>
<rect class="nb" x="1653.3" y="4940" width="37.4" height="26.75" rx="4"/><text class="t" x="1660.3" y="4957.6">休息</text>
<rect class="nb" x="1653.3" y="4994.6" width="72.5" height="26.75" rx="4"/><text class="t" x="1660.3" y="5012.2">做饭前准备</text>
<rect class="nb" x="1653.3" y="5048.1" width="99" height="26.75" rx="4"/><text class="t" x="1660.3" y="5065.7">18：00 - 18：30</text>
<rect class="nb" x="1653.3" y="5102.6" width="37.4" height="26.75" rx="4"/><text class="t" x="1660.3" y="5120.2">晚餐</text>
<rect class="nb" x="1653.3" y="5157.2" width="49.1" height="26.75" rx="4"/><text class="t" x="1660.3" y="5174.8">不挑食</text>
<rect class="nb" x="1653.3" y="5211.6" width="142.7" height="26.75" rx="4"/><text class="t" x="1660.3" y="5229.2">做好饭前准备、饭后收拾</text>
<rect class="nb" x="1653.3" y="5265.3" width="37.4" height="26.75" rx="4"/><text class="t" x="1660.3" y="5282.9">晚上</text>
<rect class="nb" x="1653.3" y="5319.6" width="99" height="26.75" rx="4"/><text class="t" x="1660.3" y="5337.2">18：30 - 20：30</text>
<rect class="nb" x="1653.3" y="5374.3" width="60.8" height="26.75" rx="4"/><text class="t" x="1660.3" y="5391.9">自由活动</text>
<rect class="nb" x="1653.3" y="5428.9" width="131" height="26.75" rx="4"/><text class="t" x="1660.3" y="5446.5">收听收看《新闻联播》</text>
<rect class="nb" x="1653.3" y="5483.4" width="166" height="26.75" rx="4"/><text class="t" x="1660.3" y="5501">表现好可以去大广场或公园玩</text>
<rect class="nb" x="1653.3" y="5537" width="99" height="26.75" rx="4"/><text class="t" x="1660.3" y="5554.6">20：30 - 21：00</text>
<rect class="nb" x="1653.3" y="5591.6" width="107.6" height="26.75" rx="4"/><text class="t" x="1660.3" y="5609.2">做睡觉前准备工作</text>
<rect class="nb" x="1653.3" y="5646" width="37.4" height="26.75" rx="4"/><text class="t" x="1660.3" y="5663.6">自理</text>
<rect class="nb" x="1653.3" y="5699.6" width="53" height="26.75" rx="4"/><text class="t" x="1660.3" y="5717.2">21：00</text>
<rect class="nb" x="1653.3" y="5755.1" width="37.4" height="26.75" rx="4"/><text class="t" x="1660.3" y="5772.7">睡觉</text>
</g>

<g id="b5"><rect class="pill" x="621.7" y="4296.7" width="251" height="36" rx="18"/><text class="pl" x="638" y="4319.9">小学生寒假学习计划书最新版 篇5</text></g>
<g id="b5-1"><rect class="nb" x="336.7" y="3581.65" width="257.3" height="231.5" rx="4"/><text class="t" x="343.7" y="3804">在放假后就制定一个寒假学习生活计划。</text></g>
<g id="b5-2"><rect class="nb" x="336.7" y="3839.4" width="257.3" height="310.25" rx="4"/><text class="t" x="343.7" y="3856.95"><tspan x="343.7">从时间来说，假期不像在校学习时那么紧张。</tspan><tspan x="343.7" dy="15.75">但也要有条不紊。一天的时间安排从早上起床</tspan><tspan x="343.7" dy="15.75">到中午再到晚上休息，都要有一个详细的规划</tspan><tspan x="343.7" dy="15.75">。什么时间预习复习功课，预习复习哪门功课</tspan><tspan x="343.7" dy="15.75">。什么时间休息，如听听音乐，唱唱歌。什么</tspan><tspan x="343.7" dy="15.75">时间和家长或同学上街玩或做些有益的体育活</tspan><tspan x="343.7" dy="15.75">动。要像在学校里一样有一个"日程表"，制定</tspan><tspan x="343.7" dy="15.75">的计划要充分想到一些自己控制不了的时间，</tspan><tspan x="343.7" dy="15.75">留有弹性余地。如和家长一起拜访亲友或亲友</tspan><tspan x="343.7" dy="15.75">同学上门拜访，和同学一起自由活动等等。一</tspan><tspan x="343.7" dy="15.75">般要7：00起床，中午休息半小时，晚上10：</tspan><tspan x="343.7" dy="15.75">30最晚11：00休息。把复习功课、科目、玩</tspan><tspan x="343.7" dy="15.75">、兴趣发展、逛街、访友的时间穿插开，做到</tspan><tspan x="343.7" dy="15.75">劳役结合、井井有条。一般上午以理科为主，</tspan><tspan x="343.7" dy="15.75">下午以文科为主，零散时间背背单词、积累。</tspan><tspan x="343.7" dy="15.75">利用网校听名师面授、看知识强化，做在线测</tspan><tspan x="343.7" dy="15.75">试，也可以单独拿出时间听英语外教听力、看</tspan><tspan x="343.7" dy="15.75">作文天地里的写作指导和作品共享或看看在线</tspan><tspan x="343.7" dy="15.75">答疑里的疑难问题，做到巩固强化所学知识。</tspan></text></g>
<g id="b5-3"><rect class="nb" x="336.7" y="4177.35" width="257.3" height="42.5" rx="4"/><text class="t" x="343.7" y="4194.9"><tspan x="343.7">1，从最差科目着手，例如，英语每天固定背</tspan><tspan x="343.7" dy="15.75">单词，数物化每天做习题，语文每天做阅读。</tspan></text></g>
<g id="b5-4"><rect class="nb" x="354.3" y="4247.1" width="239.7" height="26.75" rx="4"/><text class="t" x="361.3" y="4264.7">2，需要记忆的，记载小本子上，随身记。</text></g>
<g id="b5-5"><rect class="nb" x="427.3" y="4301.3" width="166.7" height="26.75" rx="4"/><text class="t" x="434.3" y="4318.9">3，多看辅导书，多做练习题</text></g>
<g id="b5-6"><rect class="nb" x="451.7" y="4356.1" width="142.3" height="26.75" rx="4"/><text class="t" x="458.7" y="4373.7">4，错题一定要整理下来</text></g>
<g id="b5-7"><rect class="nb" x="336.7" y="4410.6" width="257.3" height="58.25" rx="4"/><text class="t" x="343.7" y="4428.15"><tspan x="343.7">5，树立目标，用尽全力中学生寒假学习计划</tspan><tspan x="343.7" dy="15.75">的延伸阅读——制定学习计划的作用计划是</tspan><tspan x="343.7" dy="15.75">实现目标的蓝图</tspan></text></g>
<g id="b5-8"><rect class="nb" x="336.7" y="4496.4" width="257.3" height="74" rx="4"/><text class="t" x="343.7" y="4513.97"><tspan x="343.7">目标不是什么花瓶，你需要制定计划，脚踏实</tspan><tspan x="343.7" dy="15.75">地、有步骤地去实现它。通过计划合理安排时</tspan><tspan x="343.7" dy="15.75">间和任务，使自己达到目标，也使自己明确每</tspan><tspan x="343.7" dy="15.75">一个任务的目的。</tspan></text></g>
<g id="b5-9"><rect class="nb" x="483.3" y="4598.4" width="110.7" height="26.75" rx="4"/><text class="t" x="490.3" y="4616">促使自己实行计划</text></g>
<g id="b5-10"><rect class="nb" x="336.7" y="4652.4" width="257.3" height="121.25" rx="4"/><text class="t" x="343.7" y="4669.95"><tspan x="343.7">学习生活是千变万化的，它总是在引诱你去偷</tspan><tspan x="343.7" dy="15.75">懒。制定学习计划，可以促使你按照计划实行</tspan><tspan x="343.7" dy="15.75">任务，排除困难和干扰。实行计划是意志力的</tspan><tspan x="343.7" dy="15.75">体现。坚持实行计划可以磨练你的意志力，而</tspan><tspan x="343.7" dy="15.75">意志力经过磨练，你的学习收获又会更一步提</tspan><tspan x="343.7" dy="15.75">升。这些进步只会能使你更有自信心，取得更</tspan><tspan x="343.7" dy="15.75">好的成功。</tspan></text></g>
<g id="b5-11"><rect class="nb" x="459.3" y="4802.1" width="134.7" height="26.75" rx="4"/><text class="t" x="466.3" y="4819.7">有利于学习习惯的形成</text></g>
<g id="b5-12"><rect class="nb" x="336.7" y="4855.6" width="257.3" height="152.75" rx="4"/><text class="t" x="343.7" y="4873.2"><tspan x="343.7">按照计划行事，能使自己的学习生活节奏分明</tspan><tspan x="343.7" dy="15.75">。从而，该学习时能安心学习，玩的时候能开</tspan><tspan x="343.7" dy="15.75">心地玩。久而久之，所有这些都会形成自觉行</tspan><tspan x="343.7" dy="15.75">动，成为好的学习习惯。提高学习效率，减少</tspan><tspan x="343.7" dy="15.75">时间浪费。合理的计划安排使你更有效的利用</tspan><tspan x="343.7" dy="15.75">时间。你会知道多玩一个小时就会有哪项任务</tspan><tspan x="343.7" dy="15.75">不会完成，这会给你带来多大的影响。有了计</tspan><tspan x="343.7" dy="15.75">划，每一步行动都很明确，也不要总是花费心</tspan><tspan x="343.7" dy="15.75">思考虑等下该学什么</tspan></text></g>

<g id="b6"><rect class="pill" x="1240" y="6291.8" width="247" height="36" rx="18"/><text class="pl" x="1255" y="6315">小学生寒假学习计划书最新版 篇6</text></g>
<g id="b6-1"><rect class="nb" x="1515.4" y="5888.2" width="110.2" height="26.75" rx="4"/><text class="t6" x="1522.4" y="5905.9">一、合理安排时间</text></g>
<g id="b6-2"><rect class="nb" x="1515.4" y="6052.4" width="135.1" height="26.75" rx="4"/><text class="t6" x="1522.4" y="6070.1">二、坚持完成学习任务</text></g>
<g id="b6-3"><rect class="nb" x="1515.4" y="6178.1" width="147.4" height="26.75" rx="4"/><text class="t6" x="1522.4" y="6195.8">三、参加力所能及的劳动</text></g>
<g id="b6-4"><rect class="nb" x="1515.3" y="6705.5" width="134.7" height="26.75" rx="4"/><text class="t6" x="1522.3" y="6723.2">四、增强自我保护意识</text></g>
<g id="b6-1a"><rect class="nb" x="1654.3" y="5808.9" width="256.5" height="184.8" rx="4"/><text class="t6" x="1661" y="5826.6"><tspan x="1661">首先应该对这一学期的学习做一个全面的总结</tspan><tspan x="1661" dy="15.8">，有哪些收获，有哪些不足，哪些需要改进，</tspan><tspan x="1661" dy="15.8">然后就要拟定一个科学的寒假计划，安排好每</tspan><tspan x="1661" dy="15.8">天的学习＋锻炼＋阅读＋休闲，当然要科学地</tspan><tspan x="1661" dy="15.8">安排时间，不然太过紧张或者太过松弛都会影</tspan><tspan x="1661" dy="15.8">响寒假的学习质量。"凡事预则立，不预则废</tspan><tspan x="1661" dy="15.8">。"有了一份适合自己的计划，就能更好的安</tspan><tspan x="1661" dy="15.8">排时间。在寒假结束时，还要简单地总结一下</tspan><tspan x="1661" dy="15.8">，想一下自己在寒假有什么收获，那时，我们</tspan><tspan x="1661" dy="15.8">会对自己说："这个寒假我过得很有规律、很</tspan><tspan x="1661" dy="15.8">充实。"</tspan></text></g>
<g id="b6-2a"><rect class="nb" x="1678" y="6021" width="258.4" height="90" rx="4"/><text class="t6" x="1684.7" y="6038.7"><tspan x="1684.7">按计划每天给自己布置一点点寒假作业，坚持</tspan><tspan x="1684.7" dy="15.8">每天学习，通过温故知新进一步提高学习能力</tspan><tspan x="1684.7" dy="15.8">。假期中，每个人都应该多读几本书，通过阅</tspan><tspan x="1684.7" dy="15.8">读，积累更多词汇，开阔自己的视野。如果需</tspan><tspan x="1684.7" dy="15.8">要，可以就近参加一些辅导课程。</tspan></text></g>
<g id="b6-3a"><rect class="nb" x="1690.7" y="6138.9" width="257.3" height="105.8" rx="4"/><text class="t6" x="1697.4" y="6156.6"><tspan x="1697.4">假期是进行劳动实践的大好时机，做一些力所</tspan><tspan x="1697.4" dy="15.8">能及的劳动，可以培养自理能力，体验劳动带</tspan><tspan x="1697.4" dy="15.8">来的愉悦。同学们可以充分利用寒假这段时间</tspan><tspan x="1697.4" dy="15.8">，帮助家长做一些简单的家务活：洗衣、做饭</tspan><tspan x="1697.4" dy="15.8">、打扫卫生等，适当参与一些社会性的公益劳</tspan><tspan x="1697.4" dy="15.8">动。</tspan></text></g>
<g id="b6-4-items">
<rect class="nb" x="1679" y="6271.6" width="256.6" height="90" rx="4"/><text class="t6" x="1685.7" y="6289.3"><tspan x="1685.7">不论身在何处，安全都是最重要的。走亲访友</tspan><tspan x="1685.7" dy="15.8">、外出游玩要时刻提高警惕。过春节千万不要</tspan><tspan x="1685.7" dy="15.8">玩烟花爆竹。在家里同样要防火、防电、防煤</tspan><tspan x="1685.7" dy="15.8">气中毒等。提高自我保护意识，平平安安每一</tspan><tspan x="1685.7" dy="15.8">天，快快乐乐度寒假。</tspan></text>
<rect class="nb" x="1679" y="6388.6" width="256.6" height="74.2" rx="4"/><text class="t6" x="1685.7" y="6406.3"><tspan x="1685.7">寒假已经临近为了在寒假中丰富自己的知识面</tspan><tspan x="1685.7" dy="15.8">，按时学习生活，做事有规律，更好地度过一</tspan><tspan x="1685.7" dy="15.8">个快乐，充实，有意义的寒假，特制定此寒假</tspan><tspan x="1685.7" dy="15.8">学习计划</tspan></text>
<rect class="nb" x="1679" y="6490.5" width="256.6" height="42.6" rx="4"/><text class="t6" x="1685.7" y="6508.2"><tspan x="1685.7">其次，每天抽出半小时来背诵语数英三科中该</tspan><tspan x="1685.7" dy="15.8">记忆的古诗词、数学公式、单词等等。</tspan></text>
<rect class="nb" x="1679" y="6561.3" width="256.6" height="58.4" rx="4"/><text class="t6" x="1685.7" y="6579"><tspan x="1685.7">再次，在开学前一周，可以建议学生上预习课</tspan><tspan x="1685.7" dy="15.8">，一章内容左右，以此让学生更快的进入到学</tspan><tspan x="1685.7" dy="15.8">习状态。</tspan></text>
<rect class="nb" x="1679" y="6646.6" width="129" height="26.8" rx="4"/><text class="t6" x="1685.7" y="6664.3">小学生寒假学习计划9</text>
<rect class="nb" x="1679" y="6701.4" width="256.6" height="58.4" rx="4"/><text class="t6" x="1685.7" y="6719.1"><tspan x="1685.7">同学们从小就应该养成好的学习习惯，例如每</tspan><tspan x="1685.7" dy="15.8">个学期都为自己定力一个学习计划以及学习目</tspan><tspan x="1685.7" dy="15.8">标，并切实按照计划，一步一步地完成学习。</tspan></text>
<rect class="nb" x="1679" y="6786.6" width="256.6" height="58.4" rx="4"/><text class="t6" x="1685.7" y="6804.3"><tspan x="1685.7">开学第一天，一进学校，看到洁净如新的校园</tspan><tspan x="1685.7" dy="15.8">，看到崭新的桌椅，和蔼可亲的老师，我暗暗</tspan><tspan x="1685.7" dy="15.8">下定决心，要发奋学习，考上理想的中学。</tspan></text>
<rect class="nb" x="1679" y="7099.1" width="256.6" height="42.6" rx="4"/><text class="t6" x="1685.7" y="7116.8"><tspan x="1685.7">俗话说："逆水行舟，不进则退。"这句话说得</tspan><tspan x="1685.7" dy="15.8">不错。今后，我一定要做到以下几点：</tspan></text>
</g>
<g id="b6-points">
<rect class="nb" x="1964.2" y="6872.9" width="257.2" height="90" rx="4"/><text class="t6" x="1971" y="6890.6"><tspan x="1971">一、做好"三定"。一定学习目标，语文97分</tspan><tspan x="1971" dy="15.8">，数学100分，英语98分以上；二定竞赛对手</tspan><tspan x="1971" dy="15.8">，树立我要超越对手的信念；三定帮扶对象，</tspan><tspan x="1971" dy="15.8">做好老师的助手，辅导好下层生，努力提高我</tspan><tspan x="1971" dy="15.8">们班的整体质量。</tspan></text>
<rect class="nb" x="1964.2" y="6990.2" width="257.2" height="58.4" rx="4"/><text class="t6" x="1971" y="7007.9"><tspan x="1971">二、课前做好预习，找出疑难，不能解决的问</tspan><tspan x="1971" dy="15.8">题在堂上多留意老师的讲解，并能做到"不耻</tspan><tspan x="1971" dy="15.8">下问。"</tspan></text>
<rect class="nb" x="1964.2" y="7076.1" width="257.2" height="42.6" rx="4"/><text class="t6" x="1971" y="7093.8"><tspan x="1971">三、上课专心听讲，认真做好笔记，积极发言</tspan><tspan x="1971" dy="15.8">，力争堂上知识堂上过关。</tspan></text>
<rect class="nb" x="1964.2" y="7146" width="257.2" height="42.6" rx="4"/><text class="t6" x="1971" y="7163.7"><tspan x="1971">四、课后认真完成作业，温故知新，睡觉前将</tspan><tspan x="1971" dy="15.8">老师堂上所讲的内容在脑海中放一次"电影"。</tspan></text>
<rect class="nb" x="1964.2" y="7216.5" width="257.2" height="42.6" rx="4"/><text class="t6" x="1971" y="7234.2"><tspan x="1971">五、虚心学习别人的长处与优点，不妒忌别人</tspan><tspan x="1971" dy="15.8">，遇到挫折和失败，不灰心、不气馁。</tspan></text>
<rect class="nb" x="1964.2" y="7285.9" width="257.2" height="74.2" rx="4"/><text class="t6" x="1971" y="7303.6"><tspan x="1971">六、合理安排好休息时间与娱乐时间，每天完</tspan><tspan x="1971" dy="15.8">成作业后听听音乐，翻翻课外书，看看电视新</tspan><tspan x="1971" dy="15.8">闻。星期六、日适当看看少儿频道台电视或参</tspan><tspan x="1971" dy="15.8">加一些有益的课外活动。</tspan></text>
<rect class="nb" x="2250" y="7297.1" width="257" height="58.4" rx="4"/><text class="t6" x="2256.7" y="7314.8"><tspan x="2256.7">今后，我一定要以"宝剑锋从磨砺出，梅花香</tspan><tspan x="2256.7" dy="15.8">自苦寒来"为座右铭，超越自我，力争优异的</tspan><tspan x="2256.7" dy="15.8">成绩，为班争光，为校争光。</tspan></text>
</g>
</g>
</svg>
